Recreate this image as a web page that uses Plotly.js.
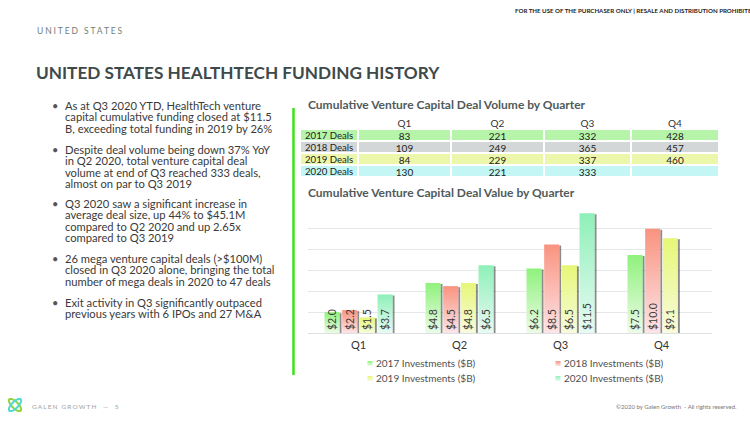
<!DOCTYPE html>
<html>
<head>
<meta charset="utf-8">
<script src="https://cdn.plot.ly/plotly-3.0.1.min.js"></script>
<style>
  html, body { margin: 0; padding: 0; background: #ffffff; }
  #chart { width: 750px; height: 422px; }
</style>
</head>
<body>
<div id="chart"></div>
<script>
// ---------------- DATA ----------------
const quarters = ['Q1', 'Q2', 'Q3', 'Q4'];
const dealRows = ['2017 Deals', '2018 Deals', '2019 Deals', '2020 Deals'];
const deals2017 = [83, 221, 332, 428];
const deals2018 = [109, 249, 365, 457];
const deals2019 = [84, 229, 337, 460];
const deals2020 = [130, 221, 333, null];

const seriesNames = ['2017 Investments ($B)', '2018 Investments ($B)', '2019 Investments ($B)', '2020 Investments ($B)'];
const inv2017 = [2.0, 4.8, 6.2, 7.5];
const inv2018 = [2.2, 4.5, 8.5, 10.0];
const inv2019 = [1.5, 4.8, 6.5, 9.1];
const inv2020 = [3.7, 6.5, 11.5, null];

const bulletParas = [
  ['As at Q3 2020 YTD, HealthTech venture', 'capital cumulative funding closed at $11.5', 'B, exceeding total funding in 2019 by 26%'],
  ['Despite deal volume being down 37% YoY', 'in Q2 2020, total venture capital deal', 'volume at end of Q3 reached 333 deals,', 'almost on par to Q3 2019'],
  ['Q3 2020 saw a significant increase in', 'average deal size, up 44% to $45.1M', 'compared to Q2 2020 and up 2.65x', 'compared to Q3 2019'],
  ['26 mega venture capital deals (>$100M)', 'closed in Q3 2020 alone, bringing the total', 'number of mega deals in 2020 to 47 deals'],
  ['Exit activity in Q3 significantly outpaced', 'previous years with 6 IPOs and 27 M&A']
];

// ---------------- STYLE ----------------
const W = 750, H = 422;
const FONT = 'Lato, "Open Sans", sans-serif';
const topColors = ['#8ff27c', '#f9937f', '#e6f777', '#8ef0b8'];
const bottomColors = ['#ecfbe8', '#fde4e7', '#f8fbdc', '#e8faf4'];
const rowFills = ['#b6f4a9', '#d4d7d7', '#edf7ab', '#c3f6f4'];
const xp = px => px / W;
const yp = py => 1 - py / H;

const invSeries = [inv2017, inv2018, inv2019, inv2020];
const legendIds = ['legend', 'legend2', 'legend3', 'legend4'];

const traces = invSeries.map((vals, i) => ({
  type: 'bar',
  name: seriesNames[i],
  x: quarters,
  y: vals,
  text: vals.map(v => (v === null ? '' : '$' + v.toFixed(1))),
  textposition: 'inside',
  insidetextanchor: 'start',
  textangle: -90,
  constraintext: 'none',
  textfont: { family: FONT, size: 10.5, color: '#3a3a3a' },
  marker: { color: topColors[i], line: { width: 0 } },
  legend: legendIds[i],
  hoverinfo: 'skip'
}));

// table (labels kept on one line with non-breaking spaces)
const dealSeries = [deals2017, deals2018, deals2019, deals2020];
const rowLabels = dealRows.map(s => s.replace(/ /g, '\u00a0'));
const tableCols = [rowLabels].concat(quarters.map((q, qi) => dealSeries.map(s => (s[qi] === null ? '' : s[qi]))));
traces.push({
  type: 'table',
  domain: { x: [xp(300), xp(719)], y: [yp(180), yp(116)] },
  columnwidth: [58, 93, 93, 87, 88],
  header: {
    values: [''].concat(quarters),
    align: 'center',
    height: 13,
    fill: { color: '#ffffff' },
    line: { color: '#ffffff', width: 1 },
    font: { family: FONT, size: 10, color: '#333333' }
  },
  cells: {
    values: tableCols,
    align: ['left', 'center', 'center', 'center', 'center'],
    height: 12,
    fill: { color: tableCols.map(() => rowFills) },
    line: { color: '#ffffff', width: 1.5 },
    font: { family: FONT, size: [9.6, 10, 10, 10, 10], color: '#222222' }
  }
});

// annotations
const annotations = [];
function addText(text, x, y, size, color, opts, weight) {
  annotations.push(Object.assign({
    text: text, x: xp(x), y: yp(y), xref: 'paper', yref: 'paper',
    xanchor: 'left', yanchor: 'middle', align: 'left', showarrow: false,
    font: { family: FONT, size: size, color: color, weight: weight || 'normal' }
  }, opts || {}));
}
addText('FOR THE USE OF THE PURCHASER ONLY | RESALE AND DISTRIBUTION PROHIBITED', 513, 11, 6.15, '#222222', {}, 'bold');
addText('UNITED STATES', 35, 31, 8.5, '#6f7d7d');
addText('<b>UNITED STATES HEALTHTECH FUNDING HISTORY</b>', 34, 72, 17.2, '#3e4a4a');
addText('<b>Cumulative Venture Capital Deal Volume by Quarter</b>', 306, 105, 12, '#505a5a');
addText('<b>Cumulative Venture Capital Deal Value by Quarter</b>', 306, 192, 12, '#505a5a');

const paraStarts = [105.3, 149.3, 203.3, 258.3, 302.3];
const lineStep = 11.3;
const BULLET_SIZE = 11.2;
bulletParas.forEach((lines, pi) => {
  addText('•', 50, paraStarts[pi], 11, '#555555');
  const n = lines.length;
  // box centre such that the first line sits at paraStarts (Plotly uses 1.3em line spacing)
  const centre = paraStarts[pi] + (n - 1) / 2 * 1.3 * BULLET_SIZE;
  addText(lines.join('<br>'), 63, centre, BULLET_SIZE, '#3a3a3a', { name: 'para' });
});

addText('GALEN GROWTH  —  5', 30, 406, 6.5, '#9aa3a3');
addText('©2020 by Galen Growth  - All rights reserved.', 739, 406, 6, '#777777', { xanchor: 'right', align: 'right' });

// shapes: green divider and logo loops
function loopPath(cx, cy, a, b, angDeg) {
  const t0 = angDeg * Math.PI / 180;
  let d = '';
  for (let k = 0; k <= 36; k++) {
    const t = k / 36 * 2 * Math.PI;
    const ex = a * Math.cos(t), ey = b * Math.sin(t);
    const px = cx + ex * Math.cos(t0) - ey * Math.sin(t0);
    const py = cy + ex * Math.sin(t0) + ey * Math.cos(t0);
    d += (k === 0 ? 'M' : 'L') + xp(px).toFixed(5) + ',' + yp(py).toFixed(5);
  }
  return d + 'Z';
}
const shapes = [
  { type: 'line', xref: 'paper', yref: 'paper', x0: xp(293.5), x1: xp(293.5), y0: yp(108), y1: yp(375),
    line: { color: '#3de21b', width: 2.5 } },
  { type: 'path', xref: 'paper', yref: 'paper', path: loopPath(15, 405, 8, 3.2, 45), line: { color: '#8ed63a', width: 2 } },
  { type: 'path', xref: 'paper', yref: 'paper', path: loopPath(15, 405, 8, 3.2, -45), line: { color: '#55d8d2', width: 2 } }
];

function legendCfg(x, y) {
  return { x: xp(x), y: yp(y), xanchor: 'left', yanchor: 'middle', orientation: 'h',
    bgcolor: 'rgba(0,0,0,0)', borderwidth: 0, itemclick: false, itemdoubleclick: false,
    font: { family: FONT, size: 10, color: '#505050' } };
}

const layout = {
  width: W, height: H,
  margin: { l: 0, r: 0, t: 0, b: 0 },
  paper_bgcolor: '#ffffff', plot_bgcolor: '#ffffff',
  hovermode: false,
  showlegend: true,
  barmode: 'group',
  bargap: 0.3,
  bargroupgap: 0.15,
  xaxis: {
    domain: [xp(308), xp(712)],
    type: 'category',
    showgrid: false, showline: false, ticks: '',
    ticklabelstandoff: 4,
    tickfont: { family: FONT, size: 11, color: '#333333' },
    fixedrange: true
  },
  yaxis: {
    domain: [yp(333), yp(208)],
    range: [0, 12], dtick: 2,
    showticklabels: false,
    gridcolor: '#e5e8e8', gridwidth: 1,
    zeroline: true, zerolinecolor: '#dde0e0', zerolinewidth: 1,
    fixedrange: true
  },
  legend: legendCfg(336, 363.5),
  legend2: legendCfg(524, 363.5),
  legend3: legendCfg(336, 378.5),
  legend4: legendCfg(524, 378.5),
  annotations: annotations,
  shapes: shapes
};

function decorate(gd) {
  const svg = gd.querySelector('.main-svg');
  if (!svg) return;
  const NS = 'http://www.w3.org/2000/svg';
  let defs = svg.querySelector('#customdefs');
  if (!defs) {
    defs = document.createElementNS(NS, 'defs');
    defs.setAttribute('id', 'customdefs');
    topColors.forEach((c, i) => {
      const lg = document.createElementNS(NS, 'linearGradient');
      lg.setAttribute('id', 'bargrad' + i);
      lg.setAttribute('x1', '0'); lg.setAttribute('y1', '0');
      lg.setAttribute('x2', '0'); lg.setAttribute('y2', '1');
      [[0, c], [1, bottomColors[i]]].forEach(([o, col]) => {
        const s = document.createElementNS(NS, 'stop');
        s.setAttribute('offset', o);
        s.setAttribute('stop-color', col);
        lg.appendChild(s);
      });
      defs.appendChild(lg);
    });
    const f = document.createElementNS(NS, 'filter');
    f.setAttribute('id', 'barshadow');
    f.setAttribute('x', '-20%'); f.setAttribute('y', '-10%');
    f.setAttribute('width', '160%'); f.setAttribute('height', '130%');
    const ds = document.createElementNS(NS, 'feDropShadow');
    ds.setAttribute('dx', '2'); ds.setAttribute('dy', '1');
    ds.setAttribute('stdDeviation', '0.7');
    ds.setAttribute('flood-color', '#000000');
    ds.setAttribute('flood-opacity', '0.45');
    f.appendChild(ds);
    defs.appendChild(f);
    svg.insertBefore(defs, svg.firstChild);
  }
  gd.querySelectorAll('.barlayer .trace').forEach((tr, i) => {
    tr.querySelectorAll('.point path').forEach(p => {
      p.style.fill = 'url(#bargrad' + i + ')';
      p.setAttribute('filter', 'url(#barshadow)');
    });
  });
  gd.querySelectorAll('g.legend .traces, g.legend2 .traces, g.legend3 .traces, g.legend4 .traces').forEach(tg => {
    const d = tg.__data__;
    const idx = d && d[0] && d[0].trace ? d[0].trace.index : null;
    tg.querySelectorAll('.legendpoints path').forEach(p => {
      if (idx !== null && idx < 4) p.style.fill = 'url(#bargrad' + idx + ')';
      p.setAttribute('transform', 'translate(34,0) scale(0.42)');
    });
  });
  // pull table cell text up so it sits centred in the short rows
  gd.querySelectorAll('.cell-text-holder').forEach(h => {
    const tf = h.getAttribute('transform') || '';
    if (h.getAttribute('data-base') !== tf) {
      const m = tf.match(/translate\(\s*([-\d.e]+)[\s,]+([-\d.e]+)\s*\)/);
      if (m) {
        let x = parseFloat(m[1]);
        if (x < 20) x -= 3;
        const nt = 'translate(' + x + ',' + (parseFloat(m[2]) - 5) + ')';
        h.setAttribute('transform', nt);
        h.setAttribute('data-base', nt);
      }
    }
  });
  gd.querySelectorAll('.annotation-text').forEach(t => {
    const s = t.textContent;
    if (s === 'UNITED STATES') t.style.letterSpacing = '1.9px';
    if (s.indexOf('GALEN GROWTH') === 0) t.style.letterSpacing = '1.1px';
    const lines = t.querySelectorAll('tspan.line');
    if (lines.length > 1) {
      lines.forEach((ln, k) => ln.setAttribute('dy', (k * lineStep) + 'px'));
    }
  });
}

Plotly.newPlot('chart', traces, layout, { displayModeBar: false, staticPlot: true }).then(gd => {
  decorate(gd);
  gd.on('plotly_afterplot', () => decorate(gd));
});
</script>
</body>
</html>
